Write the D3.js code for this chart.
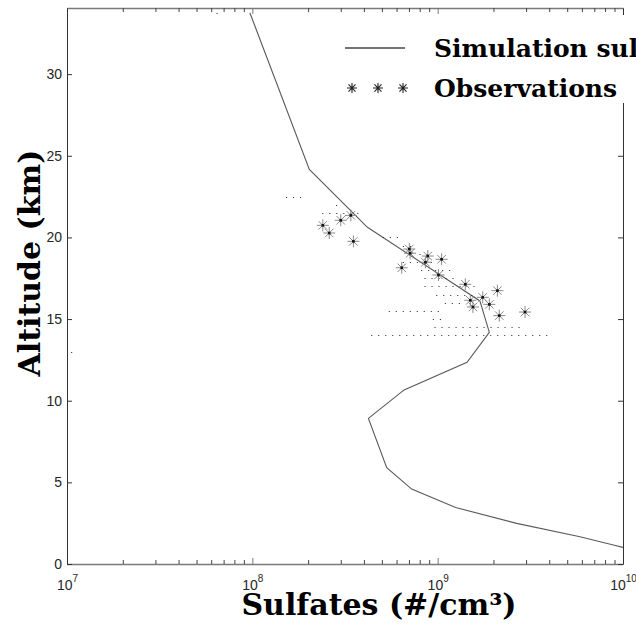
<!DOCTYPE html>
<html><head><meta charset="utf-8">
<script src="https://cdn.jsdelivr.net/npm/d3@7"></script>
<style>html,body{margin:0;padding:0;background:#fff;overflow:hidden}</style>
</head><body>
<svg id="chart" width="636" height="630"></svg>
<script>
// ---- data ----
const simAltitude = [33.76, 24.17, 20.62, 16.11, 14.19, 12.35, 10.66, 8.92, 5.90, 4.59, 3.46, 2.49, 1.67, 1.16, 1.02];
const simValue    = [9.7e7, 2.03e8, 4.18e8, 1.69e9, 1.90e9, 1.44e9, 6.59e8, 4.23e8, 5.31e8, 7.24e8, 1.25e9, 2.67e9, 5.86e9, 8.87e9, 1.0e10];

const obsAltitude = [21.35, 21.05, 20.74, 20.27, 19.76, 19.29, 19.03, 18.86, 18.66, 18.48, 18.14, 17.70, 17.13, 16.74, 16.33, 16.15, 15.90, 15.74, 15.21, 15.43];
const obsValue    = [3.40e8, 3.00e8, 2.40e8, 2.60e8, 3.51e8, 7.03e8, 7.10e8, 8.84e8, 1.05e9, 8.59e8, 6.40e8, 1.01e9, 1.41e9, 2.10e9, 1.75e9, 1.50e9, 1.90e9, 1.55e9, 2.15e9, 2.96e9];

const rangeAltitude = [33.75, 22.5, 22.0, 21.5, 20.0, 19.5, 19.0, 18.5, 18.0, 17.5, 17.0, 16.5, 16.0, 15.5, 15.0, 14.5, 14.0, 13.0];
const rangeMin      = [6.45e7, 1.53e8, 2.85e8, 2.40e8, 5.09e8, 6.53e8, 8.04e8, 6.53e8, 8.20e8, 8.55e8, 8.55e8, 9.89e8, 1.10e9, 5.48e8, 9.48e8, 9.68e8, 4.41e8, 1.06e7];
const rangeMax      = [6.45e7, 1.83e8, 2.85e8, 3.78e8, 6.14e8, 7.64e8, 9.29e8, 9.68e8, 1.17e9, 1.24e9, 1.59e9, 1.56e9, 1.35e9, 1.05e9, 1.05e9, 2.85e9, 4.13e9, 1.06e7];

const yTicks = [0, 5, 10, 15, 20, 25, 30];
const xTickExponents = [7, 8, 9, 10];
const legendLabels = ["Simulation sulfates", "Observations"];
const xTitle = "Sulfates (#/cm³)";
const yTitle = "Altitude (km)";
const xDomain = [1e7, 1e10];
const yDomain = [0, 34.05];

// ---- layout ----
const plot = {left: 67, right: 623, top: 8, bottom: 564};
const tickFont = "14px 'Liberation Sans', Arial, Helvetica, sans-serif";
const titleFont = "bold 30px 'DejaVu Serif', serif";
const legendFont = "bold 25px 'DejaVu Serif', serif";

const svg = d3.select("#chart");
const x = d3.scaleLog().domain(xDomain).range([plot.left, plot.right]);
const y = d3.scaleLinear().domain(yDomain).range([plot.bottom, plot.top]);

const majors = xTickExponents.map(e => Math.pow(10, e));
const minors = [];
for (let e = xTickExponents[0]; e < xTickExponents[xTickExponents.length - 1]; e++)
  for (let k = 2; k <= 9; k++) minors.push(k * Math.pow(10, e));

function styleAxis(g, color, width) {
  g.select(".domain").attr("stroke", color).attr("stroke-width", width);
  g.selectAll(".tick line").attr("stroke", color).attr("stroke-width", 1);
}
function dropEmptyText(g) { g.selectAll(".tick text").remove(); }

// simulation line
svg.append("path")
  .datum(simValue.map((v, i) => [v, simAltitude[i]]))
  .attr("fill", "none").attr("stroke", "#5a5a5a").attr("stroke-width", 1.1)
  .attr("d", d3.line().x(d => x(d[0])).y(d => y(d[1])));

// dotted observation ranges
svg.append("g").selectAll("line").data(rangeAltitude).join("line")
  .attr("x1", (d, i) => x(rangeMin[i]) - 0.5)
  .attr("x2", (d, i) => x(rangeMax[i]) + 0.5)
  .attr("y1", d => Math.round(y(d)) + 0.5)
  .attr("y2", d => Math.round(y(d)) + 0.5)
  .attr("stroke", "#222").attr("stroke-width", 1)
  .attr("stroke-dasharray", "1,6");

// asterisk markers
function starPath(r) {
  const a = r * Math.SQRT1_2;
  return `M${-r},0H${r}M0,${-r}V${r}M${-a},${-a}L${a},${a}M${-a},${a}L${a},${-a}`;
}
const obsG = svg.append("g");
obsG.selectAll("path").data(obsValue).join("path")
  .attr("transform", (d, i) => `translate(${x(d)},${y(obsAltitude[i])})`)
  .attr("d", starPath(6))
  .attr("fill", "none").attr("stroke", "#8a8a8a").attr("stroke-width", 1);
obsG.selectAll("rect").data(obsValue).join("rect")
  .attr("x", d => x(d) - 1.3).attr("y", (d, i) => y(obsAltitude[i]) - 1.3)
  .attr("width", 2.6).attr("height", 2.6).attr("fill", "#111");

// axes
const gBottom = svg.append("g").attr("transform", `translate(0,${plot.bottom})`)
  .call(d3.axisBottom(x).tickValues(majors).tickSizeInner(-6).tickSizeOuter(0));
styleAxis(gBottom, "#7a7a7a", 1.6);
dropEmptyText(gBottom);
svg.append("g").attr("transform", `translate(0,${plot.bottom})`)
  .call(d3.axisBottom(x).tickValues(minors).tickSizeInner(-4).tickSizeOuter(0))
  .call(g => { g.select(".domain").remove(); g.selectAll(".tick line").attr("stroke", "#444"); dropEmptyText(g); });

const gTop = svg.append("g").attr("transform", `translate(0,${plot.top})`)
  .call(d3.axisTop(x).tickValues(majors).tickSizeInner(-6).tickSizeOuter(0));
styleAxis(gTop, "#7a7a7a", 1.6);
dropEmptyText(gTop);
svg.append("g").attr("transform", `translate(0,${plot.top})`)
  .call(d3.axisTop(x).tickValues(minors).tickSizeInner(-4).tickSizeOuter(0))
  .call(g => { g.select(".domain").remove(); g.selectAll(".tick line").attr("stroke", "#444"); dropEmptyText(g); });

const gLeft = svg.append("g").attr("transform", `translate(${plot.left},0)`)
  .call(d3.axisLeft(y).tickValues(yTicks).tickSizeInner(-5).tickSizeOuter(0).tickPadding(5).tickFormat(d3.format("d")));
styleAxis(gLeft, "#333", 1);
gLeft.selectAll(".tick text").attr("fill", "#262626").style("font", tickFont);

const gRight = svg.append("g").attr("transform", `translate(${plot.right},0)`)
  .call(d3.axisRight(y).tickValues(yTicks).tickSizeInner(-5).tickSizeOuter(0));
styleAxis(gRight, "#333", 1);
dropEmptyText(gRight);

// x tick labels with superscript exponents
gBottom.selectAll(".tick").each(function (d) {
  const t = d3.select(this).append("text")
    .attr("y", 26).attr("text-anchor", "middle").attr("fill", "#262626")
    .style("font", tickFont);
  t.append("tspan").text("10");
  t.append("tspan").attr("dy", -8).style("font-size", "10px").text(Math.round(Math.log10(d)));
});

// legend
const lg = svg.append("g");
lg.append("rect").attr("x", 330).attr("y", 15).attr("width", 320).attr("height", 88).attr("fill", "#fff");
lg.append("line").attr("x1", 345).attr("x2", 405).attr("y1", 48).attr("y2", 48)
  .attr("stroke", "#444").attr("stroke-width", 1.3);
[352, 378, 403].forEach(cx => {
  lg.append("path").attr("transform", `translate(${cx},88)`).attr("d", starPath(5))
    .attr("fill", "none").attr("stroke", "#222").attr("stroke-width", 1.1);
});
lg.selectAll("text").data(legendLabels).join("text")
  .attr("x", 434).attr("y", (d, i) => i === 0 ? 57 : 97)
  .attr("fill", "#000").style("font", legendFont).text(d => d);

// axis titles
svg.append("text").attr("x", 379).attr("y", 615).attr("text-anchor", "middle")
  .attr("fill", "#000").style("font", titleFont).text(xTitle);
svg.append("text").attr("transform", "translate(40,263) rotate(-90)").attr("text-anchor", "middle")
  .attr("fill", "#000").style("font", titleFont).text(yTitle);
</script>
</body></html>
